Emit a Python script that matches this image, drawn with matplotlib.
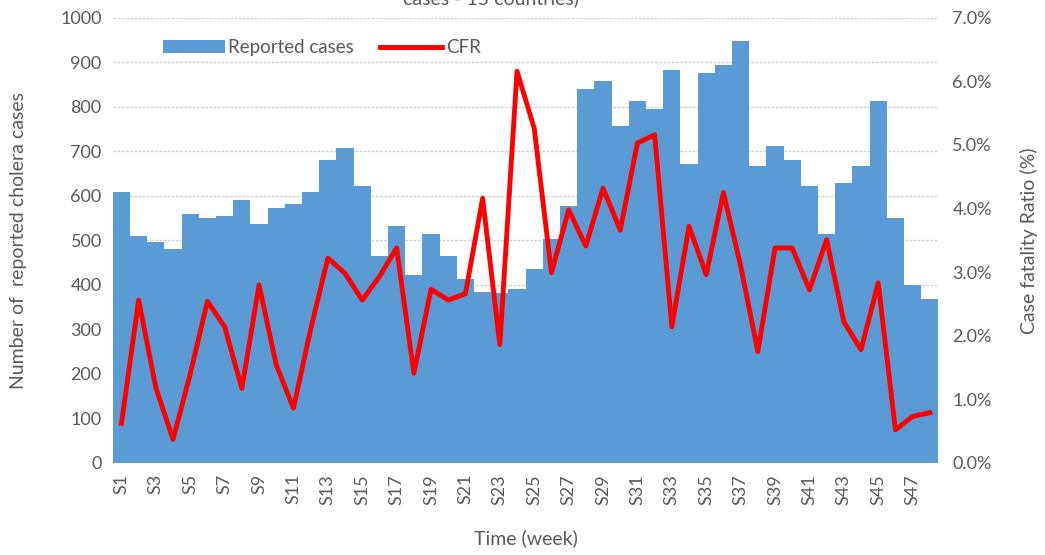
import matplotlib
matplotlib.use('Agg')
import matplotlib.pyplot as plt
from matplotlib.ticker import PercentFormatter

weeks = ['S%d' % i for i in range(1, 49)]

# weekly reported cholera cases
cases = [609, 510, 497, 481, 560, 550, 555, 591, 537, 573, 582, 609,
         681, 708, 622, 465, 533, 422, 514, 465, 413, 383, 381, 390,
         435, 502, 576, 839, 857, 757, 812, 795, 883, 672, 876, 893,
         947, 668, 713, 681, 622, 514, 628, 668, 812, 550, 400, 368]

# case fatality ratio (%)
cfr = [0.62, 2.56, 1.18, 0.37, 1.40, 2.54, 2.14, 1.17, 2.80, 1.54, 0.86, 2.10,
       3.22, 2.98, 2.56, 2.93, 3.38, 1.41, 2.73, 2.56, 2.66, 4.16, 1.86, 6.16,
       5.26, 2.99, 3.98, 3.41, 4.32, 3.66, 5.03, 5.16, 2.14, 3.72, 2.96, 4.25,
       3.10, 1.75, 3.38, 3.38, 2.72, 3.51, 2.22, 1.78, 2.83, 0.52, 0.73, 0.79]

grey = '#595959'
blue = '#5b9bd5'
plt.rcParams['font.family'] = ['Lato', 'DejaVu Sans']

fig = plt.figure(figsize=(10.45, 5.55), dpi=100)
ax = fig.add_axes([0.108, 0.166, 0.790, 0.802])
ax2 = ax.twinx()

x = list(range(len(weeks)))
bars = ax.bar(x, cases, width=1.0, color=blue, label='Reported cases', zorder=2)
line, = ax2.plot(x, cfr, color='#ff0000', linewidth=3.5, label='CFR', zorder=3)

ax.set_xlim(-0.5, len(weeks) - 0.5)
ax.set_ylim(0, 1000)
ax.set_yticks(range(0, 1001, 100))
ax2.set_ylim(0, 7)
ax2.set_yticks(range(0, 8))
ax2.yaxis.set_major_formatter(PercentFormatter(decimals=1))

ax.set_xticks(x[::2])
ax.set_xticklabels(weeks[::2], rotation=90)

ax.grid(axis='y', color='#d0d0d0', linestyle=(0, (2, 1)), linewidth=1, zorder=0)
ax.set_axisbelow(True)
for a in (ax, ax2):
    for s in a.spines.values():
        s.set_visible(False)
    a.tick_params(length=0, colors=grey, labelsize=13)
ax.tick_params(axis='x', pad=8)
ax.tick_params(axis='y', pad=8)
ax2.tick_params(axis='y', pad=10)

ax.set_ylabel('Number of  reported cholera cases', color=grey, fontsize=14, labelpad=24)
ax2.set_ylabel('Case fatality Ratio (%)', color=grey, fontsize=14, labelpad=20)
ax.set_xlabel('Time (week)', color=grey, fontsize=14, labelpad=18)

fig.text(0.47, 1.004, 'cases - 15 countries)', color=grey, fontsize=14,
         ha='center', va='center')

leg = ax.legend([bars, line], ['Reported cases', 'CFR'], loc='upper left',
                bbox_to_anchor=(0.04, 0.99), ncol=2, frameon=False,
                fontsize=13.5, handlelength=3.3, handletextpad=0.2,
                columnspacing=1.4)
for t in leg.get_texts():
    t.set_color(grey)

fig.savefig('out.png', dpi=100, facecolor='white')
